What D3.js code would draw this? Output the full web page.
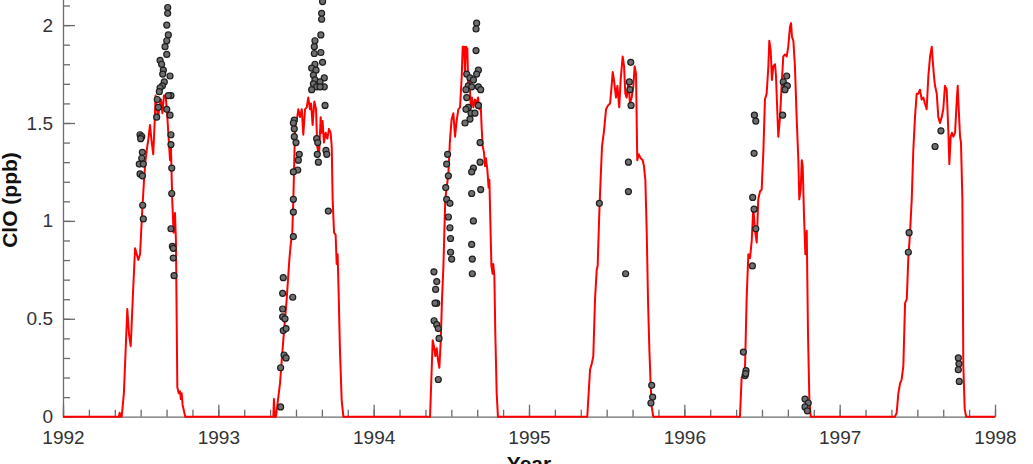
<!DOCTYPE html>
<html>
<head>
<meta charset="utf-8">
<script src="https://cdn.jsdelivr.net/npm/d3@7"></script>
<style>
  html, body { margin: 0; padding: 0; background: #fff; }
  svg { display: block; font-family: "Liberation Sans", Arial, sans-serif; }
  .tick text { fill: #333; font-size: 19px; }
  .domain, .tick line { stroke: #6b6b6b; stroke-width: 1.3; }
  .title { font-weight: bold; font-size: 21px; fill: #111; }
</style>
</head>
<body>
<svg id="svg" width="1033" height="464"></svg>
<script>
// modelled ClO (ppb), one array per polar season, [decimal year, ppb]
const model1992 = [[1992.000,0],[1992.360,0],[1992.365,0.02],[1992.372,0],[1992.378,0],[1992.392,0.12],[1992.414,0.55],[1992.425,0.42],[1992.436,0.36],[1992.450,0.62],[1992.464,0.86],[1992.475,0.83],[1992.485,0.80],[1992.496,0.83],[1992.510,1.05],[1992.521,1.20],[1992.530,1.30],[1992.539,1.36],[1992.550,1.42],[1992.560,1.49],[1992.570,1.41],[1992.581,1.34],[1992.590,1.50],[1992.596,1.64],[1992.604,1.58],[1992.612,1.52],[1992.620,1.58],[1992.631,1.62],[1992.640,1.55],[1992.650,1.64],[1992.661,1.64],[1992.670,1.55],[1992.678,1.45],[1992.689,1.31],[1992.695,1.38],[1992.703,1.11],[1992.712,0.94],[1992.721,1.04],[1992.727,0.90],[1992.736,0.15],[1992.745,0.12],[1992.753,0.13],[1992.759,0.09],[1992.764,0.12],[1992.770,0.06],[1992.787,0]];
const model1993 = [[1993.354,0],[1993.358,0.09],[1993.363,0],[1993.371,0],[1993.397,0.17],[1993.418,0.39],[1993.440,0.60],[1993.457,0.80],[1993.466,0.88],[1993.476,0.94],[1993.483,1.11],[1993.489,1.31],[1993.494,1.48],[1993.504,1.51],[1993.515,1.57],[1993.526,1.53],[1993.537,1.57],[1993.547,1.44],[1993.558,1.57],[1993.569,1.58],[1993.579,1.63],[1993.590,1.57],[1993.597,1.60],[1993.607,1.49],[1993.618,1.61],[1993.629,1.57],[1993.637,1.38],[1993.648,1.33],[1993.659,1.53],[1993.665,1.45],[1993.671,1.51],[1993.680,1.40],[1993.691,1.45],[1993.702,1.42],[1993.712,1.47],[1993.723,1.45],[1993.730,1.38],[1993.736,1.11],[1993.745,0.94],[1993.755,0.93],[1993.762,0.78],[1993.768,0.83],[1993.774,0.65],[1993.783,0.34],[1993.794,0.085],[1993.805,0]];
const model1994 = [[1994.352,0],[1994.363,0],[1994.380,0.39],[1994.388,0.36],[1994.397,0.31],[1994.406,0.35],[1994.414,0.29],[1994.423,0.25],[1994.432,0.39],[1994.440,0.60],[1994.449,0.77],[1994.455,0.94],[1994.461,1.11],[1994.470,1.17],[1994.481,1.24],[1994.491,1.41],[1994.502,1.52],[1994.513,1.55],[1994.524,1.43],[1994.534,1.51],[1994.545,1.57],[1994.556,1.58],[1994.567,1.74],[1994.573,1.89],[1994.582,1.89],[1994.588,1.76],[1994.594,1.89],[1994.603,1.88],[1994.609,1.68],[1994.616,1.74],[1994.625,1.58],[1994.633,1.63],[1994.642,1.58],[1994.652,1.62],[1994.663,1.60],[1994.672,1.63],[1994.680,1.57],[1994.689,1.60],[1994.695,1.48],[1994.702,1.38],[1994.710,1.35],[1994.717,1.28],[1994.723,1.32],[1994.732,1.26],[1994.740,1.17],[1994.745,1.21],[1994.749,1.07],[1994.758,0.77],[1994.766,0.73],[1994.770,0.78],[1994.777,0.72],[1994.783,0.43],[1994.792,0.12],[1994.800,0]];
const model1995 = [[1995.371,0],[1995.375,0],[1995.393,0.24],[1995.404,0.27],[1995.414,0.31],[1995.425,0.60],[1995.436,0.75],[1995.442,0.77],[1995.453,1.05],[1995.462,1.23],[1995.470,1.38],[1995.483,1.46],[1995.496,1.57],[1995.509,1.59],[1995.522,1.60],[1995.532,1.69],[1995.539,1.76],[1995.547,1.72],[1995.560,1.63],[1995.569,1.69],[1995.581,1.58],[1995.590,1.72],[1995.603,1.84],[1995.612,1.79],[1995.620,1.65],[1995.629,1.63],[1995.640,1.71],[1995.650,1.60],[1995.661,1.63],[1995.672,1.69],[1995.680,1.79],[1995.689,1.75],[1995.697,1.31],[1995.706,1.34],[1995.719,1.32],[1995.732,1.31],[1995.740,1.28],[1995.749,1.21],[1995.758,0.94],[1995.766,0.60],[1995.775,0.34],[1995.783,0.17],[1995.790,0.05],[1995.800,0]];
const model1996 = [[1996.354,0],[1996.358,0],[1996.369,0.20],[1996.380,0.21],[1996.391,0.26],[1996.401,0.60],[1996.412,0.83],[1996.423,0.81],[1996.434,0.90],[1996.444,1.07],[1996.455,0.95],[1996.466,0.89],[1996.476,1.11],[1996.487,1.15],[1996.498,1.16],[1996.509,1.36],[1996.519,1.62],[1996.530,1.65],[1996.541,1.79],[1996.547,1.92],[1996.556,1.87],[1996.564,1.72],[1996.573,1.79],[1996.584,1.80],[1996.590,1.74],[1996.599,1.55],[1996.605,1.43],[1996.616,1.53],[1996.627,1.70],[1996.637,1.84],[1996.648,1.85],[1996.659,1.84],[1996.669,1.89],[1996.680,1.99],[1996.687,2.01],[1996.693,1.94],[1996.702,1.92],[1996.712,1.79],[1996.723,1.53],[1996.734,1.31],[1996.740,1.11],[1996.749,1.16],[1996.756,1.31],[1996.762,1.28],[1996.770,1.04],[1996.779,0.83],[1996.788,0.95],[1996.796,0.43],[1996.805,0.085],[1996.814,0]];
const model1997 = [[1997.356,0],[1997.367,0.02],[1997.378,0.12],[1997.389,0.17],[1997.399,0.19],[1997.410,0.26],[1997.421,0.58],[1997.432,0.60],[1997.442,0.81],[1997.453,0.94],[1997.464,1.11],[1997.474,1.36],[1997.485,1.53],[1997.496,1.65],[1997.506,1.65],[1997.517,1.67],[1997.528,1.62],[1997.539,1.63],[1997.549,1.60],[1997.560,1.57],[1997.571,1.74],[1997.582,1.84],[1997.593,1.89],[1997.599,1.82],[1997.607,1.74],[1997.614,1.69],[1997.625,1.65],[1997.635,1.53],[1997.646,1.50],[1997.657,1.53],[1997.667,1.57],[1997.678,1.69],[1997.689,1.67],[1997.700,1.45],[1997.706,1.29],[1997.715,1.43],[1997.723,1.45],[1997.732,1.43],[1997.743,1.45],[1997.754,1.62],[1997.760,1.69],[1997.766,1.58],[1997.775,1.43],[1997.781,1.40],[1997.790,1.11],[1997.796,0.26],[1997.805,0.04],[1997.814,0],[1998.000,0]];

// measured ClO (ppb), [decimal year, ppb]
const obs1992 = [[1992.496,1.44],[1992.507,1.43],[1992.500,1.42],[1992.511,1.35],[1992.507,1.32],[1992.491,1.29],[1992.517,1.29],[1992.496,1.24],[1992.511,1.23],[1992.513,1.08],[1992.517,1.01],[1992.674,2.09],[1992.674,2.06],[1992.668,2.00],[1992.678,1.95],[1992.668,1.92],[1992.657,1.89],[1992.668,1.85],[1992.625,1.82],[1992.635,1.80],[1992.646,1.77],[1992.642,1.75],[1992.689,1.74],[1992.652,1.71],[1992.640,1.69],[1992.625,1.68],[1992.620,1.66],[1992.695,1.64],[1992.678,1.64],[1992.607,1.62],[1992.614,1.58],[1992.603,1.53],[1992.668,1.57],[1992.689,1.54],[1992.695,1.44],[1992.695,1.39],[1992.700,1.27],[1992.700,1.14],[1992.695,0.96],[1992.704,0.87],[1992.710,0.86],[1992.710,0.81],[1992.715,0.72]];
const obs1993 = [[1993.671,2.12],[1993.665,2.06],[1993.665,2.03],[1993.660,1.95],[1993.622,1.92],[1993.618,1.89],[1993.660,1.86],[1993.618,1.855],[1993.671,1.81],[1993.622,1.80],[1993.601,1.78],[1993.629,1.77],[1993.612,1.745],[1993.682,1.73],[1993.622,1.72],[1993.655,1.71],[1993.612,1.70],[1993.633,1.685],[1993.682,1.685],[1993.601,1.67],[1993.655,1.685],[1993.687,1.59],[1993.489,1.515],[1993.483,1.50],[1993.489,1.47],[1993.489,1.43],[1993.500,1.40],[1993.521,1.34],[1993.515,1.31],[1993.511,1.26],[1993.483,1.25],[1993.483,1.11],[1993.483,1.045],[1993.483,0.92],[1993.633,1.42],[1993.640,1.40],[1993.637,1.34],[1993.644,1.30],[1993.693,1.36],[1993.698,1.34],[1993.708,1.05],[1993.418,0.71],[1993.414,0.63],[1993.479,0.61],[1993.414,0.55],[1993.414,0.51],[1993.429,0.50],[1993.418,0.44],[1993.436,0.45],[1993.423,0.315],[1993.436,0.30],[1993.401,0.25],[1993.401,0.05]];
const obs1994 = [[1994.663,2.01],[1994.659,1.98],[1994.659,1.87],[1994.674,1.77],[1994.663,1.75],[1994.599,1.75],[1994.620,1.73],[1994.642,1.72],[1994.609,1.69],[1994.674,1.685],[1994.689,1.67],[1994.631,1.685],[1994.594,1.67],[1994.599,1.63],[1994.674,1.59],[1994.609,1.58],[1994.594,1.57],[1994.627,1.55],[1994.652,1.55],[1994.620,1.52],[1994.588,1.50],[1994.685,1.40],[1994.685,1.30],[1994.642,1.27],[1994.631,1.25],[1994.689,1.16],[1994.631,1.14],[1994.642,1.00],[1994.631,0.88],[1994.635,0.805],[1994.635,0.73],[1994.476,1.34],[1994.470,1.29],[1994.481,1.23],[1994.464,1.17],[1994.470,1.11],[1994.491,1.09],[1994.481,1.02],[1994.491,0.965],[1994.495,0.91],[1994.495,0.84],[1994.502,0.805],[1994.388,0.74],[1994.406,0.69],[1994.399,0.65],[1994.406,0.58],[1994.395,0.58],[1994.389,0.49],[1994.406,0.47],[1994.416,0.45],[1994.421,0.40],[1994.416,0.19]];
const obs1995 = [[1995.655,1.81],[1995.646,1.71],[1995.650,1.67],[1995.657,1.59],[1995.640,1.30],[1995.640,1.15],[1995.453,1.09],[1995.622,0.73],[1995.790,0.16],[1995.796,0.10],[1995.785,0.07]];
const obs1996 = [[1996.451,1.54],[1996.460,1.51],[1996.449,1.345],[1996.440,1.12],[1996.449,1.06],[1996.460,0.96],[1996.438,0.77],[1996.380,0.33],[1996.397,0.235],[1996.391,0.21],[1996.395,0.22],[1996.637,1.71],[1996.659,1.74],[1996.655,1.69],[1996.663,1.69],[1996.648,1.67],[1996.633,1.54],[1996.777,0.09],[1996.798,0.07],[1996.777,0.05],[1996.792,0.03]];
const obs1997 = [[1997.652,1.46],[1997.614,1.38],[1997.447,0.94],[1997.442,0.84],[1997.764,0.30],[1997.768,0.27],[1997.764,0.24],[1997.770,0.18]];

const yearTicks = [1992, 1993, 1994, 1995, 1996, 1997, 1998];
const cloTicks = [0, 0.5, 1, 1.5, 2];

const model = [].concat(model1992, model1993, model1994, model1995, model1996, model1997);
const obs = [].concat(obs1992, obs1993, obs1994, obs1995, obs1996, obs1997);

const svg = d3.select('#svg');
const y0 = 416.7, k = 195.8;

const x = d3.scaleLinear().domain([1992, 1998]).range([63, 995]);
const y = d3.scaleLinear().domain([0, 2.2]).range([y0, y0 - 2.2 * k]);

// minor ticks first, majors on top
svg.append('g').attr('transform', `translate(0,${y0})`)
  .call(d3.axisBottom(x).tickValues(d3.range(1992, 1998.001, 1 / 6)).tickSize(-7).tickFormat(''))
  .call(g => g.select('.domain').remove());
svg.append('g').attr('transform', `translate(${x(1992)},0)`)
  .call(d3.axisLeft(y).tickValues(d3.range(0, 2.21, 0.1)).tickSize(-7).tickFormat(''))
  .call(g => g.select('.domain').remove());

svg.append('g').attr('transform', `translate(0,${y0})`)
  .call(d3.axisBottom(x).tickValues(yearTicks).tickSize(-12).tickSizeOuter(0).tickPadding(14).tickFormat(d3.format('d')));
svg.append('g').attr('transform', `translate(${x(1992)},0)`)
  .call(d3.axisLeft(y).tickValues(cloTicks).tickSize(-12).tickSizeOuter(0).tickPadding(10).tickFormat(d => d));

svg.selectAll('.tick text').attr('font-family', null).attr('font-size', null);

svg.append('path').datum(model)
  .attr('fill', 'none').attr('stroke', '#ff0000').attr('stroke-width', 2).attr('stroke-linejoin', 'round')
  .attr('d', d3.line().x(d => x(d[0])).y(d => y(d[1])));

svg.append('g').selectAll('circle').data(obs).join('circle')
  .attr('cx', d => x(d[0])).attr('cy', d => y(d[1])).attr('r', 3)
  .attr('fill', '#6e6e6e').attr('stroke', '#1e1e1e').attr('stroke-width', 1.2);

svg.append('text').attr('class', 'title').attr('text-anchor', 'middle')
  .attr('x', (x(1992) + x(1998)) / 2).attr('y', 471).text('Year');
svg.append('text').attr('class', 'title').attr('text-anchor', 'middle')
  .attr('transform', 'translate(17,200) rotate(-90)').text('ClO (ppb)');
</script>
</body>
</html>
